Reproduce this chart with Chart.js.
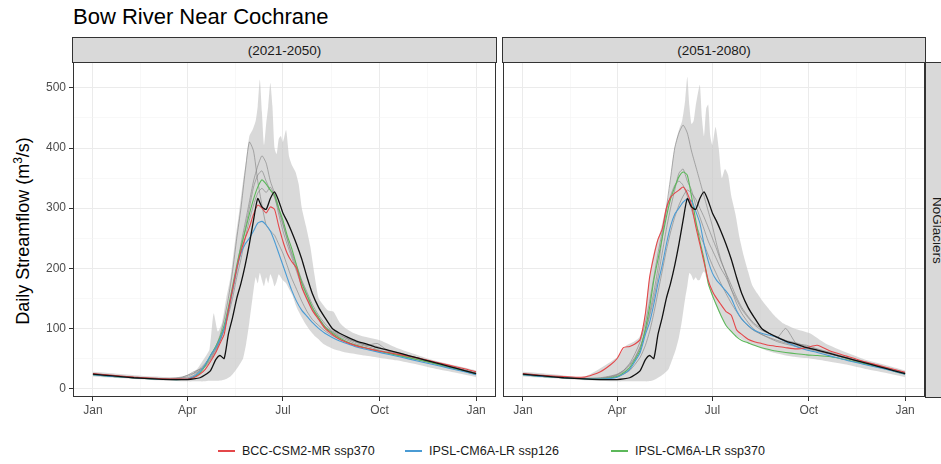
<!DOCTYPE html>
<html>
<head>
<meta charset="utf-8">
<title>Bow River Near Cochrane</title>
<script src="https://cdn.jsdelivr.net/npm/chart.js@4.4.1/dist/chart.umd.min.js"></script>
<style>
  body { margin: 0; background: #fff; font-family: "Liberation Sans", Arial, sans-serif; }
  #wrap { position: relative; width: 941px; height: 464px; overflow: hidden; }
  .abs { position: absolute; }
  #title { left: 73px; top: 6px; font-size: 22px; line-height: 22px; color: #000; }
  .strip { box-sizing: border-box; height: 26px; top: 37px; background: #d9d9d9; border: 1px solid #333;
           font-size: 13.5px; color: #1a1a1a; display: flex; align-items: center; justify-content: center; }
  #rstrip { box-sizing: border-box; left: 925px; top: 62px; width: 25px; height: 336px; background: #d9d9d9;
            border: 1px solid #333; display: flex; align-items: center; justify-content: center; }
  #rstrip span { writing-mode: vertical-rl; font-size: 13.5px; color: #1a1a1a; }
  #ytitle { left: 22px; top: 231px; transform: translate(-50%, -50%) rotate(-90deg); white-space: nowrap;
            font-size: 18px; color: #000; }
  #ytitle sup { font-size: 12px; }
  .leg { top: 443px; font-size: 12.5px; color: #1a1a1a; display: flex; align-items: center; height: 16px; }
  .leg i { display: inline-block; width: 17px; height: 2px; margin-right: 7px; }
  canvas { position: absolute; }
</style>
</head>
<body>
<div id="wrap">
  <div id="title" class="abs">Bow River Near Cochrane</div>
  <div class="abs strip" style="left:72px; width:425px;">(2021-2050)</div>
  <div class="abs strip" style="left:502px; width:424px;">(2051-2080)</div>
  <div id="rstrip" class="abs"><span>NoGlaciers</span></div>
  <div id="ytitle" class="abs">Daily Streamflow (m<sup>3</sup>/s)</div>
  <canvas id="p1" width="498" height="361" style="left:0; top:61px;"></canvas>
  <canvas id="p2" width="425" height="361" style="left:502px; top:61px;"></canvas>
  <div class="abs leg" style="left:218px;"><i style="background:#e4474a"></i>BCC-CSM2-MR ssp370</div>
  <div class="abs leg" style="left:405px;"><i style="background:#4a9bd4"></i>IPSL-CM6A-LR ssp126</div>
  <div class="abs leg" style="left:611px;"><i style="background:#5cb85a"></i>IPSL-CM6A-LR ssp370</div>
</div>
<script>
// day of year for the line series
const days = [1, 20, 40, 60, 75, 85, 91, 97, 103, 108, 113, 118, 122, 126, 130, 134, 138, 142, 146, 150,
  154, 158, 162, 166, 170, 174, 178, 182, 186, 190, 195, 200, 205, 210, 216, 222, 229, 236, 244, 252,
  262, 272, 282, 295, 310, 325, 340, 355, 366];

// day of year for the grey envelope
const rDays = [1, 30, 60, 91, 100, 107, 112, 116, 120, 124, 128, 132, 136, 140, 144, 147, 150, 153, 156, 158,
  160, 162, 164, 166, 168, 170, 172, 174, 176, 178, 180, 182, 185, 188, 191, 194, 197, 200, 204, 208,
  212, 216, 220, 225, 230, 236, 242, 250, 260, 275, 290, 310, 330, 350, 366];

// tick positions / labels
const xTicks = [1, 46, 91, 137, 182, 228, 274, 320, 366];
const xTickLabels = ['Jan', '', 'Apr', '', 'Jul', '', 'Oct', '', 'Jan'];
const yTicks = [0, 50, 100, 150, 200, 250, 300, 350, 400, 450, 500];
const yTickLabels = ['0', '', '100', '', '200', '', '300', '', '400', '', '500'];

// black line (same in both panels)
const black = [24, 21, 18, 16, 15, 15, 15, 16, 18, 23, 30, 48, 55, 50, 90, 118, 150, 175, 205, 240,
  280, 316, 302, 298, 316, 327, 312, 292, 278, 262, 240, 215, 185, 158, 135, 118, 100, 92, 85, 79,
  74, 68, 64, 58, 51, 44, 37, 30, 25];

// ---- panel 1 : (2021-2050)
const p1Red = [25, 22, 19, 17, 16, 16, 16, 18, 24, 32, 45, 60, 75, 90, 130, 165, 200, 228, 250, 268,
  290, 305, 300, 292, 302, 298, 270, 245, 225, 212, 200, 168, 148, 130, 115, 100, 90, 82, 76, 71,
  67, 63, 60, 56, 51, 45, 39, 33, 28];
const p1Blue = [23, 20, 18, 16, 15, 15, 16, 20, 28, 40, 55, 68, 82, 100, 130, 165, 200, 225, 240, 250,
  262, 275, 278, 272, 262, 245, 225, 205, 185, 165, 145, 130, 120, 110, 100, 92, 85, 79, 74, 69,
  65, 61, 57, 52, 46, 40, 34, 28, 23];
const p1Green = [23, 20, 18, 16, 15, 15, 16, 19, 26, 38, 55, 70, 85, 105, 135, 170, 205, 235, 262, 290,
  315, 335, 347, 340, 330, 322, 300, 280, 255, 235, 205, 175, 155, 135, 118, 102, 92, 84, 77, 72,
  67, 63, 59, 54, 48, 42, 35, 29, 24];
const p1Grey1 = [24, 21, 18, 16, 16, 17, 18, 22, 30, 40, 55, 70, 88, 115, 150, 195, 250, 300, 360, 410,
  395, 345, 305, 272, 262, 255, 240, 225, 205, 185, 165, 145, 128, 115, 105, 96, 88, 82, 76, 71,
  67, 63, 59, 54, 48, 42, 36, 30, 25];
const p1Grey2 = [25, 22, 19, 17, 16, 17, 20, 25, 30, 38, 50, 65, 80, 100, 130, 165, 200, 240, 275, 310,
  345, 370, 387, 375, 345, 325, 300, 275, 250, 228, 205, 180, 160, 140, 122, 108, 96, 90, 82, 77,
  72, 70, 62, 57, 50, 44, 37, 31, 26];
const p1Grey3 = [23, 20, 18, 16, 16, 18, 22, 28, 32, 36, 48, 62, 78, 98, 125, 160, 195, 230, 265, 300,
  335, 355, 362, 345, 330, 318, 296, 272, 248, 225, 200, 178, 155, 135, 118, 104, 94, 86, 80, 74,
  70, 65, 60, 55, 49, 43, 36, 30, 25];
const p1Grey4 = [24, 21, 18, 17, 17, 19, 22, 26, 33, 42, 52, 66, 80, 98, 122, 150, 185, 215, 250, 280,
  305, 325, 333, 326, 335, 320, 290, 262, 240, 220, 195, 170, 150, 132, 116, 103, 94, 88, 83, 77,
  72, 75, 63, 58, 51, 44, 38, 31, 26];
const p1Up = [28, 24, 20, 19, 32, 50, 65, 125, 95, 110, 150, 185, 240, 290, 345, 380, 420, 430, 445, 470,
  514, 460, 405, 440, 470, 508, 470, 400, 390, 415, 420, 410, 430, 385, 370, 360, 340, 300, 270, 237,
  190, 150, 140, 130, 128, 110, 100, 92, 86, 80, 68, 56, 45, 37, 30];
const p1Lo = [20, 17, 14, 12, 12, 12, 13, 13, 13, 14, 16, 20, 28, 38, 50, 75, 110, 150, 185, 175,
  192, 180, 170, 185, 175, 190, 182, 170, 178, 190, 185, 180, 175, 165, 155, 140, 128, 118, 106, 96,
  88, 82, 75, 70, 66, 63, 60, 58, 55, 51, 47, 40, 32, 25, 19];

// ---- panel 2 : (2051-2080)
const p2Red = [25, 22, 20, 19, 28, 40, 50, 68, 70, 74, 82, 125, 185, 220, 248, 265, 300, 318, 325, 330,
  335, 325, 305, 270, 240, 210, 180, 162, 150, 140, 128, 122, 98, 90, 82, 78, 75, 72, 70, 68,
  66, 68, 72, 62, 54, 46, 39, 32, 27];
const p2Blue = [23, 20, 18, 16, 16, 17, 19, 24, 32, 45, 60, 90, 110, 140, 175, 205, 240, 270, 290, 300,
  310, 315, 312, 295, 275, 240, 212, 192, 180, 172, 162, 150, 130, 116, 105, 97, 92, 89, 85, 78,
  70, 64, 60, 54, 47, 41, 35, 29, 24];
const p2Green = [23, 20, 18, 16, 16, 18, 20, 26, 35, 48, 64, 100, 135, 180, 215, 250, 285, 315, 335, 352,
  360, 355, 320, 280, 245, 215, 175, 155, 138, 122, 105, 95, 86, 80, 76, 72, 68, 65, 62, 60,
  58, 56, 55, 53, 48, 42, 36, 29, 24];
const p2Grey1 = [24, 21, 18, 17, 17, 19, 22, 28, 38, 50, 68, 95, 125, 160, 200, 250, 300, 350, 400, 425,
  438, 425, 395, 370, 345, 320, 295, 270, 240, 215, 190, 165, 142, 125, 110, 98, 90, 84, 78, 74,
  70, 66, 62, 57, 51, 44, 37, 31, 26];
const p2Grey2 = [24, 21, 18, 17, 18, 21, 24, 30, 40, 52, 70, 95, 120, 150, 185, 225, 265, 300, 330, 358,
  365, 345, 330, 305, 285, 265, 245, 230, 215, 200, 185, 165, 148, 132, 118, 106, 97, 92, 85, 100,
  75, 72, 66, 60, 52, 45, 38, 31, 26];
const p2Grey3 = [23, 20, 18, 16, 16, 18, 20, 24, 30, 40, 52, 72, 95, 125, 160, 195, 230, 260, 285, 305,
  320, 330, 325, 315, 300, 285, 268, 250, 232, 212, 192, 172, 152, 135, 120, 108, 100, 92, 86, 80,
  76, 70, 64, 58, 51, 44, 37, 31, 26];
const p2Grey4 = [25, 22, 19, 17, 17, 20, 23, 30, 42, 58, 78, 110, 145, 185, 225, 260, 295, 320, 338, 345,
  338, 320, 298, 275, 255, 240, 222, 205, 190, 175, 158, 142, 128, 115, 104, 96, 90, 85, 80, 76,
  72, 68, 63, 57, 50, 43, 37, 31, 26];
const p2Up = [28, 24, 20, 52, 72, 78, 85, 103, 160, 210, 240, 260, 290, 320, 380, 410, 430, 445, 480, 518,
  470, 440, 445, 470, 490, 505, 450, 420, 465, 472, 420, 405, 435, 400, 350, 365, 355, 320, 290, 250,
  220, 195, 172, 158, 145, 132, 120, 108, 100, 92, 75, 60, 47, 38, 30];
const p2Lo = [20, 17, 14, 12, 12, 12, 12, 12, 12, 13, 16, 20, 25, 32, 50, 65, 85, 114, 150, 170,
  192, 188, 180, 185, 180, 181, 190, 195, 185, 172, 162, 152, 140, 128, 118, 108, 100, 94, 88, 84,
  80, 76, 73, 70, 66, 62, 59, 56, 53, 50, 46, 40, 32, 25, 19];

const RED = '#e4474a', BLUE = '#4a9bd4', GREEN = '#5cb85a';

// sanity check on array lengths
[black, p1Red, p1Blue, p1Green, p1Grey1, p1Grey2, p1Grey3, p1Grey4,
 p2Red, p2Blue, p2Green, p2Grey1, p2Grey2, p2Grey3, p2Grey4].forEach((a, i) => {
  if (a.length !== days.length) throw new Error('line array ' + i + ' has ' + a.length);
});
[p1Up, p1Lo, p2Up, p2Lo].forEach((a, i) => {
  if (a.length !== rDays.length) throw new Error('ribbon array ' + i + ' has ' + a.length);
});

function pts(xs, ys) {
  return xs.map((x, i) => ({ x: x, y: ys[i] }));
}

// panel border, like ggplot's theme_bw
const panelBorder = {
  id: 'panelBorder',
  afterDraw(chart) {
    const { ctx, chartArea: a } = chart;
    ctx.save();
    ctx.strokeStyle = '#333';
    ctx.lineWidth = 1;
    ctx.strokeRect(a.left + 0.5, a.top + 0.5, a.right - a.left - 1, a.bottom - a.top - 1);
    ctx.restore();
  }
};

const FONT = { family: '"Liberation Sans", Arial, sans-serif', size: 12 };

function makePanel(id, s, showY) {
  const ds = [
    { data: pts(rDays, s.lo), borderColor: 'rgba(0,0,0,0)', borderWidth: 0, fill: false, order: 20 },
    { data: pts(rDays, s.up), borderColor: 'rgba(0,0,0,0)', borderWidth: 0, fill: '-1',
      backgroundColor: 'rgba(196,196,196,0.65)', order: 19 }
  ];
  s.greys.forEach(g => ds.push({ data: pts(days, g), borderColor: 'rgba(125,125,125,0.6)', borderWidth: 1, order: 10 }));
  ds.push({ data: pts(days, s.green), borderColor: GREEN, borderWidth: 1.1, order: 4 });
  ds.push({ data: pts(days, s.blue), borderColor: BLUE, borderWidth: 1.1, order: 3 });
  ds.push({ data: pts(days, s.red), borderColor: RED, borderWidth: 1.1, order: 2 });
  ds.push({ data: pts(days, black), borderColor: '#111', borderWidth: 1.3, order: 1 });

  return new Chart(document.getElementById(id), {
    type: 'line',
    data: { datasets: ds },
    options: {
      responsive: false,
      animation: false,
      events: [],
      layout: { padding: { top: 1, right: 2, bottom: 0, left: 0 } },
      elements: { point: { radius: 0 }, line: { tension: 0.2 } },
      plugins: { legend: { display: false }, tooltip: { enabled: false } },
      scales: {
        x: {
          type: 'linear', min: -18, max: 385,
          afterBuildTicks: ax => { ax.ticks = xTicks.map(v => ({ value: v })); },
          afterFit: ax => { ax.height = 25; ax.paddingLeft = 0; ax.paddingRight = 0; },
          border: { display: false },
          grid: {
            color: c => (c.index % 2 === 0 ? '#ebebeb' : '#f4f4f4'),
            lineWidth: c => (c.index % 2 === 0 ? 1 : 0.6),
            tickColor: c => (c.index % 2 === 0 ? '#333' : 'rgba(0,0,0,0)'),
            tickLength: 4
          },
          ticks: {
            autoSkip: false, maxRotation: 0, padding: 2, color: '#4d4d4d', font: FONT,
            callback: (v, i) => xTickLabels[i]
          }
        },
        y: {
          type: 'linear', min: -14, max: 543,
          afterBuildTicks: ax => { ax.ticks = yTicks.map(v => ({ value: v })); },
          afterFit: ax => { ax.width = showY ? 73 : 1; ax.paddingTop = 0; ax.paddingBottom = 0; },
          border: { display: false },
          grid: {
            color: c => (c.index % 2 === 0 ? '#ebebeb' : '#f4f4f4'),
            lineWidth: c => (c.index % 2 === 0 ? 1 : 0.6),
            tickColor: c => (c.index % 2 === 0 ? '#333' : 'rgba(0,0,0,0)'),
            tickLength: 4,
            drawTicks: showY
          },
          ticks: {
            display: showY, autoSkip: false, padding: 3, color: '#4d4d4d', font: FONT,
            callback: (v, i) => yTickLabels[i]
          }
        }
      }
    },
    plugins: [panelBorder]
  });
}

makePanel('p1', { red: p1Red, blue: p1Blue, green: p1Green,
  greys: [p1Grey1, p1Grey2, p1Grey3, p1Grey4], up: p1Up, lo: p1Lo }, true);
makePanel('p2', { red: p2Red, blue: p2Blue, green: p2Green,
  greys: [p2Grey1, p2Grey2, p2Grey3, p2Grey4], up: p2Up, lo: p2Lo }, false);
</script>
</body>
</html>
